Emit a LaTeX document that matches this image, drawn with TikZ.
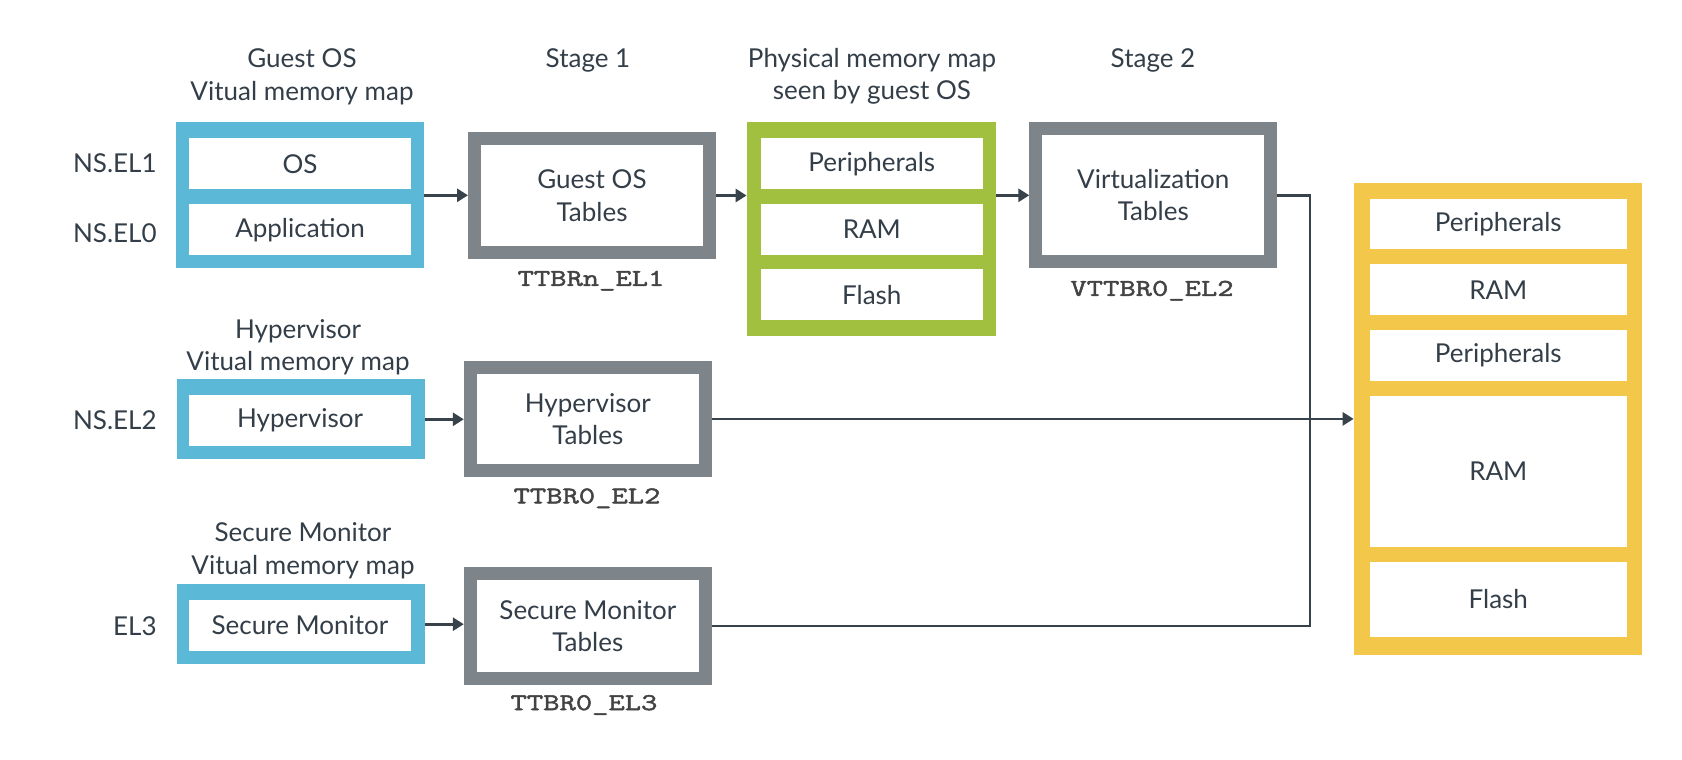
\documentclass[tikz,border=0pt]{standalone}
\usepackage{fontspec}
\setmainfont{Lato}
\newfontfamily\regfont[FakeStretch=1.32,FakeBold=2]{Latin Modern Mono}
\usetikzlibrary{arrows.meta}
\definecolor{mapblue}{HTML}{5BB8D6}
\definecolor{mapgreen}{HTML}{A2C03F}
\definecolor{mapyellow}{HTML}{F3C84A}
\definecolor{tblgray}{HTML}{7D848A}
\definecolor{inkgray}{HTML}{333E48}
\definecolor{reggray}{HTML}{434343}
\definecolor{linegray}{HTML}{37424A}

\begin{document}
\begin{tikzpicture}[x=0.5pt,y=-0.5pt]
        \tikzstyle{every node}+=[inner sep=0pt,text=inkgray,font=\fontsize{13}{16.2}\selectfont]
        \tikzstyle{frame}=[rectangle,minimum width=124pt]
        \tikzstyle{cell}=[rectangle,fill=white,minimum width=111pt,minimum height=25.5pt]
        \tikzstyle{ycell}=[cell,minimum width=128.35pt]
        \tikzstyle{tbl}=[rectangle,draw=tblgray,line width=6.5pt,fill=white,align=center,minimum width=117.5pt]
        \tikzstyle{ttl}=[align=center]
        \tikzstyle{elname}=[anchor=east]
        \tikzstyle{reg}=[font=\fontsize{12}{14}\regfont,text=reggray]
        \tikzstyle{conn}=[draw=linegray,line width=1.4pt]
        \tikzstyle{arr}=[conn,-{Triangle[length=5.5pt,width=6.5pt]}]
        \useasboundingbox (0,0) rectangle (1682,760);
        \node (stage1) at (588,60.7) {Stage 1};
        \node (stage2) at (1153,60.7) {Stage 2};
        \node [ttl] (guestttl) at (302,77) {Guest OS\\Vitual memory map};
        \node [ttl] (physttl) at (872,76.2) {Physical memory map\\seen by guest OS};
        \node [elname] (nsel1) at (157,163.3) {NS.EL1};
        \node [elname] (nsel0) at (157,232.7) {NS.EL0};
        \node [frame,fill=mapblue,minimum height=73pt] (guestmap) at (300,195.3) {};
        \node [cell] (os) at (300,163.8) {OS};
        \node [cell] (app) at (300,229.7) {Application};
        \node [tbl,minimum height=57.3pt] (guesttbl) at (592,195.5) {Guest OS\\Tables};
        \node [reg] (ttbrnel1) at (591,280.7) {TTBRn\_EL1};
        \node [frame,fill=mapgreen,minimum width=124.5pt,minimum height=106.7pt] (physmap) at (871.5,229) {};
        \node [cell] (gperiph) at (871.8,163.8) {Peripherals};
        \node [cell] (gram) at (871.8,229.5) {RAM};
        \node [cell] (gflash) at (871.8,294.7) {Flash};
        \node [tbl,minimum height=66.5pt] (virttbl) at (1153.3,195.3) {Virtualization\\Tables};
        \node [reg] (vttbrel2) at (1152,290.7) {VTTBR0\_EL2};
        \node [ttl] (hypttl) at (298,347) {Hypervisor\\Vitual memory map};
        \node [elname] (nsel2) at (157,420) {NS.EL2};
        \node [frame,fill=mapblue,minimum height=40pt] (hypmap) at (300.5,419.3) {};
        \node [cell] (hyp) at (300,420.5) {Hypervisor};
        \node [tbl,minimum height=51.35pt] (hyptbl) at (587.8,418.9) {Hypervisor\\Tables};
        \node [reg] (ttbrel2) at (587,498.3) {TTBR0\_EL2};
        \node [ttl] (secttl) at (303,550.8) {Secure Monitor\\Vitual memory map};
        \node [elname] (el3) at (157,626) {EL3};
        \node [frame,fill=mapblue,minimum height=39.85pt] (secmap) at (300.5,624.2) {};
        \node [cell] (secmon) at (300,625.3) {Secure Monitor};
        \node [tbl,minimum height=52.65pt] (sectbl) at (587.8,625.9) {Secure Monitor\\Tables};
        \node [reg] (ttbrel3) at (584,705) {TTBR0\_EL3};
        \node [frame,fill=mapyellow,minimum width=143.85pt,minimum height=236.15pt] (sysmap) at (1497.9,418.9) {};
        \node [ycell,minimum height=25pt] (periph1) at (1498.3,224.3) {Peripherals};
        \node [ycell,minimum height=25.35pt] (ram1) at (1498.3,289.7) {RAM};
        \node [ycell,minimum height=25.35pt] (periph2) at (1498.3,355.3) {Peripherals};
        \node [ycell,minimum height=75.35pt] (ram2) at (1498.3,471.3) {RAM};
        \node [ycell,minimum height=37.2pt] (flash) at (1498.3,599.5) {Flash};
        \coordinate (merge) at (1310,625.9);
        \draw [arr] (guestmap.east) -- (guestmap.east -| guesttbl.west);
        \draw [arr] (guesttbl.east) -- (guesttbl.east -| physmap.west);
        \draw [arr] (virttbl.west -| physmap.east) -- (virttbl.west);
        \draw [arr] (hypmap.east) -- (hypmap.east -| hyptbl.west);
        \draw [arr] (secmap.east) -- (secmap.east -| sectbl.west);
        \draw [arr] (hyptbl.east) -- (hyptbl.east -| sysmap.west);
        \draw [conn] (virttbl.east) -| (merge) -- (sectbl.east);
\end{tikzpicture}
\end{document}
